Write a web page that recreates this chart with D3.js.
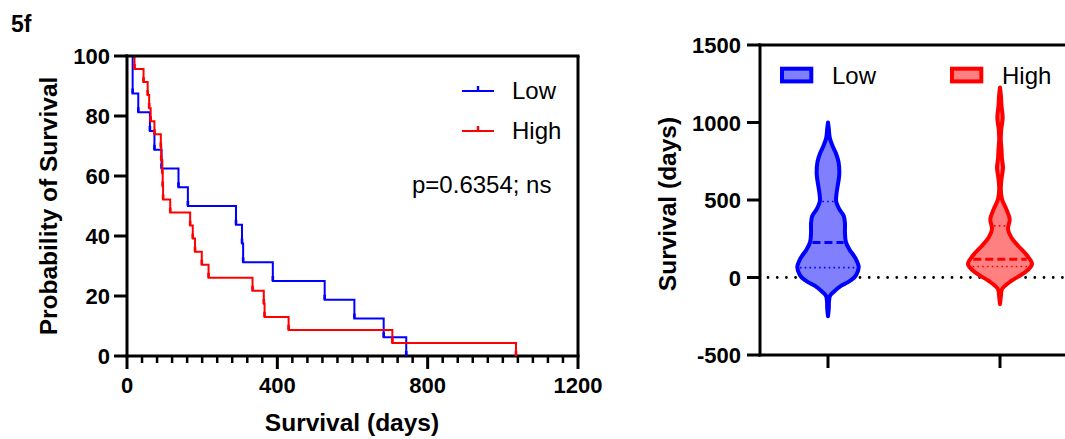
<!DOCTYPE html>
<html><head><meta charset="utf-8">
<script src="https://cdn.jsdelivr.net/npm/d3@7"></script>
<style>
body{margin:0;background:#fff}
svg{display:block;background:#fff}
text{font-family:"Liberation Sans",Arial,Helvetica,sans-serif}
</style>
</head><body>
<svg id="chart" width="1065" height="439"></svg>
<script>
// ---------------- data ----------------
const panelLabel = "5f";
const groups = ["Low", "High"];
const kmTicksX = [0, 400, 800, 1200];
const kmTicksY = [0, 20, 40, 60, 80, 100];
const kmMinorStep = 40;
const pValueLabel = "p=0.6354; ns";

// Kaplan-Meier steps (days, % surviving)
const lowTime = [0, 15, 30, 61, 73, 92, 137, 162, 290, 306, 309, 388, 526, 605, 683, 743];
const lowSurv = [100, 87.5, 81.25, 75, 68.75, 62.5, 56.25, 50, 43.75, 37.5, 31.25, 25, 18.75, 12.5, 6.25, 0];
const highTime = [0, 20, 44, 55, 59, 63, 73, 90, 91, 94, 95, 96, 115, 168, 175, 181, 199, 217, 334, 364, 366, 430, 706, 1035];
const highSurv = [100, 95.65, 91.30, 86.96, 82.61, 78.26, 73.91, 69.57, 65.22, 60.87, 56.52, 52.17, 47.83, 43.48, 39.13, 34.78, 30.43, 26.09, 21.74, 17.39, 13.04, 8.70, 4.35, 0];

// Violin plot
const violinTicksY = [-500, 0, 500, 1000, 1500];
const lowViolinValues  = [1000, 960, 900, 850, 800, 744, 667, 600, 540, 490, 441, 398, 350, 290, 228, 183, 118, 66, 20, 0, -30, -54, -90, -118, -160, -200, -250];
const lowViolinDensity = [0, .025, .056, .14, .25, .33, .353, .31, .265, .256, .353, .49, .53, .53, .56, .665, .875, .96, .89, .82, .625, .405, .19, .0625, .03, .025, 0];
const highViolinValues  = [1226, 1172, 1107, 1032, 957, 892, 828, 764, 710, 635, 570, 505, 441, 376, 312, 258, 205, 140, 86, 32, -22, -75, -118, -172];
const highViolinDensity = [0, .03, .047, .084, .04, .025, .047, .0625, .094, .047, .025, .0625, .197, .303, .25, .353, .5625, .853, 1, .77, .353, .0625, .03, 0];
const lowQuartiles  = [64, 226, 490];   // Q1, median, Q3
const highQuartiles = [71, 118, 333];

// ---------------- drawing ----------------
const svg = d3.select("#chart");
const colors = {Low: "#0000ff", High: "#ff0000"};
const fills = {Low: "#8080ff", High: "#ff8080"};

// ===== Kaplan-Meier panel =====
const xKM = d3.scaleLinear().domain([0, 1200]).range([127, 578]);
const yKM = d3.scaleLinear().domain([0, 100]).range([356, 56]);

svg.append("text").attr("x", 11).attr("y", 32)
  .attr("font-size", 23).attr("font-weight", "bold").text(panelLabel);

const km = svg.append("g");
// y axis
km.append("line").attr("x1", xKM(0)).attr("x2", xKM(0)).attr("y1", yKM(100)-1.5).attr("y2", yKM(0)+1.5)
  .attr("stroke", "#000").attr("stroke-width", 3);
kmTicksY.forEach(v => {
  km.append("line").attr("x1", xKM(0)-13).attr("x2", xKM(0)).attr("y1", yKM(v)).attr("y2", yKM(v))
    .attr("stroke", "#000").attr("stroke-width", 3);
  km.append("text").attr("x", xKM(0)-17).attr("y", yKM(v)+8).attr("text-anchor", "end")
    .attr("font-size", 22).attr("font-weight", "bold").text(v);
});
// x axis
km.append("line").attr("x1", xKM(0)-1.5).attr("x2", xKM(1200)+1.5).attr("y1", yKM(0)).attr("y2", yKM(0))
  .attr("stroke", "#000").attr("stroke-width", 3);
d3.range(0, 1201, kmMinorStep).forEach(t => {
  const major = kmTicksX.includes(t);
  km.append("line").attr("x1", xKM(t)).attr("x2", xKM(t)).attr("y1", yKM(0)).attr("y2", yKM(0) + (major ? 13 : 7))
    .attr("stroke", "#000").attr("stroke-width", major ? 3 : 2.5);
});
kmTicksX.forEach(t => {
  km.append("text").attr("x", xKM(t)).attr("y", 393).attr("text-anchor", "middle")
    .attr("font-size", 22).attr("font-weight", "bold").text(t);
});
// titles
km.append("text").attr("transform", "translate(57,206) rotate(-90)").attr("text-anchor", "middle")
  .attr("font-size", 24.5).attr("font-weight", "bold").text("Probability of Survival");
km.append("text").attr("x", 352).attr("y", 431).attr("text-anchor", "middle")
  .attr("font-size", 24.5).attr("font-weight", "bold").text("Survival (days)");

// curves
const stepLine = d3.line().x(d => xKM(d[0])).y(d => yKM(d[1])).curve(d3.curveStepAfter);
[[lowTime, lowSurv, "Low"], [highTime, highSurv, "High"]].forEach(([T, S, g]) => {
  const pts = T.map((t, i) => [t, S[i]]);
  km.append("path").attr("d", stepLine(pts)).attr("fill", "none")
    .attr("stroke", colors[g]).attr("stroke-width", 2);
  pts.slice(1).forEach(p => {
    km.append("line").attr("x1", xKM(p[0])).attr("x2", xKM(p[0]))
      .attr("y1", yKM(p[1])).attr("y2", yKM(p[1]) - 5)
      .attr("stroke", colors[g]).attr("stroke-width", 2.6);
  });
});
// top and right frame (drawn over curves)
km.append("line").attr("x1", xKM(0)-1.5).attr("x2", xKM(1200)+1.5).attr("y1", yKM(100)).attr("y2", yKM(100))
  .attr("stroke", "#000").attr("stroke-width", 3);
km.append("line").attr("x1", xKM(1200)).attr("x2", xKM(1200)).attr("y1", yKM(100)).attr("y2", yKM(0))
  .attr("stroke", "#000").attr("stroke-width", 3);

// legend
groups.forEach((g, i) => {
  const ly = 91 + i * 40;
  km.append("line").attr("x1", 462).attr("x2", 494).attr("y1", ly).attr("y2", ly)
    .attr("stroke", colors[g]).attr("stroke-width", 2);
  km.append("line").attr("x1", 478).attr("x2", 478).attr("y1", ly).attr("y2", ly - 5)
    .attr("stroke", colors[g]).attr("stroke-width", 2.4);
  km.append("text").attr("x", 512).attr("y", ly + 7.5).attr("font-size", 24).text(g);
});
km.append("text").attr("x", 412).attr("y", 193).attr("font-size", 24).text(pValueLabel);

// ===== Violin panel =====
const yV = d3.scaleLinear().domain([-500, 1500]).range([355, 45]);
const xV = d3.scalePoint().domain(groups).range([828, 1000]);
const wV = d3.scaleLinear().domain([0, 1]).range([0, 32]);
const vg = svg.append("g");

// zero reference line (dotted)
vg.append("line").attr("x1", 768).attr("x2", 1070).attr("y1", yV(0)).attr("y2", yV(0))
  .attr("stroke", "#000").attr("stroke-width", 2.8).attr("stroke-linecap", "round")
  .attr("stroke-dasharray", "0,9.2");

const violinData = {
  Low: {v: lowViolinValues, d: lowViolinDensity, q: lowQuartiles},
  High: {v: highViolinValues, d: highViolinDensity, q: highQuartiles}
};
const area = d3.area().curve(d3.curveCatmullRom.alpha(0.5));
function halfWidthAt(vals, dens, val) {
  for (let i = 0; i < vals.length - 1; i++) {
    const a = vals[i], b = vals[i+1];
    if ((val <= a && val >= b)) {
      const t = (val - a) / (b - a);
      return wV(dens[i] + t * (dens[i+1] - dens[i]));
    }
  }
  return 0;
}
groups.forEach(g => {
  const D = violinData[g], cx = xV(g);
  const pts = D.v.map((v, i) => ({v, d: D.d[i]}));
  area.y(p => yV(p.v)).x0(p => cx - wV(p.d)).x1(p => cx + wV(p.d));
  vg.append("path").attr("d", area(pts)).attr("fill", fills[g])
    .attr("stroke", colors[g]).attr("stroke-width", 4).attr("stroke-linejoin", "round");
  D.q.forEach((qv, i) => {
    const hw = halfWidthAt(D.v, D.d, qv) - 2.5;
    const med = i === 1;
    vg.append("line").attr("x1", cx - hw).attr("x2", cx + hw).attr("y1", yV(qv)).attr("y2", yV(qv))
      .attr("stroke", colors[g]).attr("stroke-width", med ? 3 : 1.6)
      .attr("stroke-dasharray", med ? "8,4" : "1.6,3.2");
  });
});

// axes
vg.append("line").attr("x1", 760).attr("x2", 760).attr("y1", yV(1500)-1.5).attr("y2", yV(-500)+1.5)
  .attr("stroke", "#000").attr("stroke-width", 3);
violinTicksY.forEach(v => {
  vg.append("line").attr("x1", 747).attr("x2", 760).attr("y1", yV(v)).attr("y2", yV(v))
    .attr("stroke", "#000").attr("stroke-width", 3);
  vg.append("text").attr("x", 741).attr("y", yV(v) + 8).attr("text-anchor", "end")
    .attr("font-size", 22).attr("font-weight", "bold").text(v);
});
vg.append("line").attr("x1", 758.5).attr("x2", 1070).attr("y1", yV(-500)).attr("y2", yV(-500))
  .attr("stroke", "#000").attr("stroke-width", 3);
vg.append("line").attr("x1", 758.5).attr("x2", 1070).attr("y1", yV(1500)).attr("y2", yV(1500))
  .attr("stroke", "#000").attr("stroke-width", 3);
groups.forEach(g => {
  vg.append("line").attr("x1", xV(g)).attr("x2", xV(g)).attr("y1", yV(-500)).attr("y2", yV(-500) + 13)
    .attr("stroke", "#000").attr("stroke-width", 3);
});
vg.append("text").attr("transform", "translate(676,204) rotate(-90)").attr("text-anchor", "middle")
  .attr("font-size", 24.5).attr("font-weight", "bold").text("Survival (days)");

// legend
groups.forEach((g, i) => {
  const lx = 782 + i * 170;
  vg.append("rect").attr("x", lx).attr("y", 68.7).attr("width", 29.3).attr("height", 12.7)
    .attr("fill", fills[g]).attr("stroke", colors[g]).attr("stroke-width", 4);
  vg.append("text").attr("x", lx + 50).attr("y", 83.5).attr("font-size", 24).text(g);
});
</script>
</body></html>
